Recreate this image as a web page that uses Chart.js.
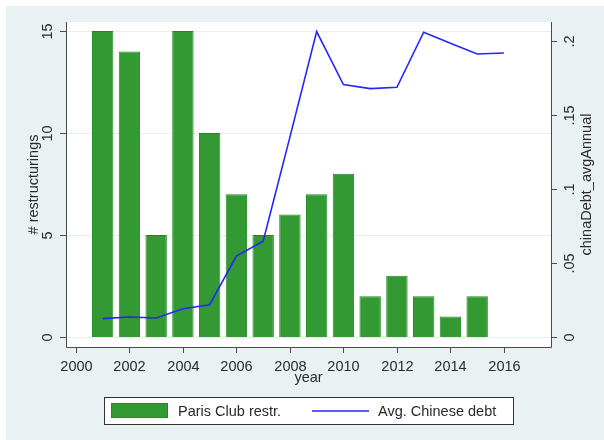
<!DOCTYPE html>
<html>
<head>
<meta charset="utf-8">
<script src="https://cdn.jsdelivr.net/npm/chart.js@4"></script>
<style>
  body { margin: 0; background: #fff; }
  #wrap { width: 604px; height: 440px; }
</style>
</head>
<body>
<div id="wrap"><canvas id="chart" width="604" height="440"></canvas></div>
<script>
// data
const barYears = [2001, 2002, 2003, 2004, 2005, 2006, 2007, 2008, 2009, 2010, 2011, 2012, 2013, 2014, 2015];
const restructurings = [15, 14, 5, 15, 10, 7, 5, 6, 7, 8, 2, 3, 2, 1, 2];
const lineYears = [2001, 2002, 2003, 2004, 2005, 2006, 2007, 2008, 2009, 2010, 2011, 2012, 2013, 2014, 2015, 2016];
const chinaDebt = [0.0124, 0.0135, 0.0128, 0.0191, 0.0218, 0.0547, 0.0647, 0.135, 0.2063, 0.1705, 0.1678, 0.1687, 0.2059, 0.1984, 0.1912, 0.1919];
const xTicks = [2000, 2002, 2004, 2006, 2008, 2010, 2012, 2014, 2016];
const leftTicks = [0, 5, 10, 15];
const leftTickLabels = ["0", "5", "10", "15"];
const rightTicks = [0, 0.05, 0.1, 0.15, 0.2];
const rightTickLabels = ["0", ".05", ".1", ".15", ".2"];

const FONT = "14.5px 'Liberation Sans', Arial, sans-serif";
const TEXT = "#2a2a2a";
const AXIS = "#4a4a4a";
const BG = "#EAF1F3";

function vtext(ctx, str, x, y) {
    ctx.save();
    ctx.translate(x, y);
    ctx.rotate(-Math.PI / 2);
    ctx.fillText(str, 0, 0);
    ctx.restore();
}

const stataFrame = {
    id: "stataFrame",
    beforeDraw(chart) {
        const ctx = chart.ctx, a = chart.chartArea;
        const y = chart.scales.y;
        ctx.save();
        ctx.fillStyle = "#fff";
        ctx.fillRect(0, 0, chart.width, chart.height);
        ctx.fillStyle = BG;
        ctx.fillRect(6, 6, chart.width - 6, chart.height - 6);
        ctx.fillStyle = "#fff";
        ctx.fillRect(a.left, a.top, a.right - a.left, a.bottom - a.top);
        // grid lines
        ctx.strokeStyle = "#E6EEF1";
        ctx.lineWidth = 1;
        leftTicks.forEach(v => {
            const py = Math.round(y.getPixelForValue(v)) + 0.5;
            ctx.beginPath();
            ctx.moveTo(a.left, py);
            ctx.lineTo(a.right, py);
            ctx.stroke();
        });
        ctx.restore();
    },
    afterDraw(chart) {
        const ctx = chart.ctx, a = chart.chartArea;
        const x = chart.scales.x, y = chart.scales.y, y2 = chart.scales.y2;
        ctx.save();
        ctx.strokeStyle = AXIS;
        ctx.lineWidth = 1;
        ctx.beginPath();
        ctx.moveTo(a.left + 0.5, a.top);
        ctx.lineTo(a.left + 0.5, a.bottom + 0.5);
        ctx.lineTo(a.right + 0.5, a.bottom + 0.5);
        ctx.moveTo(a.right + 0.5, a.top);
        ctx.lineTo(a.right + 0.5, a.bottom + 0.5);
        ctx.stroke();

        ctx.font = FONT;
        ctx.fillStyle = TEXT;

        // left axis
        ctx.textAlign = "center";
        ctx.textBaseline = "middle";
        leftTicks.forEach((v, i) => {
            const py = Math.round(y.getPixelForValue(v)) + 0.5;
            ctx.beginPath();
            ctx.moveTo(a.left - 6, py);
            ctx.lineTo(a.left, py);
            ctx.stroke();
            vtext(ctx, leftTickLabels[i], a.left - 18, py);
        });
        // right axis
        rightTicks.forEach((v, i) => {
            const py = Math.round(y2.getPixelForValue(v)) + 0.5;
            ctx.beginPath();
            ctx.moveTo(a.right, py);
            ctx.lineTo(a.right + 6, py);
            ctx.stroke();
            vtext(ctx, rightTickLabels[i], a.right + 19, py);
        });
        // x axis
        ctx.textBaseline = "alphabetic";
        xTicks.forEach(v => {
            const px = Math.round(x.getPixelForValue(v)) + 0.5;
            ctx.beginPath();
            ctx.moveTo(px, a.bottom);
            ctx.lineTo(px, a.bottom + 6);
            ctx.stroke();
            ctx.fillText(String(v), px, a.bottom + 24);
        });

        // axis titles
        const midX = (a.left + a.right) / 2, midY = (a.top + a.bottom) / 2;
        ctx.fillText("year", midX, a.bottom + 35);
        ctx.textBaseline = "middle";
        vtext(ctx, "# restructurings", 34, midY);
        vtext(ctx, "chinaDebt_avgAnnual", 587, midY);

        // legend
        const lx = 104.5, ly = 397.5, lw = 409, lh = 27;
        ctx.fillStyle = "#fff";
        ctx.fillRect(lx, ly, lw, lh);
        ctx.strokeStyle = "#333";
        ctx.strokeRect(lx, ly, lw, lh);
        const bar = chart.data.datasets[0], line = chart.data.datasets[1];
        ctx.fillStyle = bar.backgroundColor;
        ctx.fillRect(111, 403, 57, 15);
        ctx.strokeStyle = bar.borderColor;
        ctx.strokeRect(111.5, 403.5, 56, 14);
        ctx.strokeStyle = line.borderColor;
        ctx.lineWidth = 1.5;
        ctx.beginPath();
        ctx.moveTo(312, 411);
        ctx.lineTo(369, 411);
        ctx.stroke();
        ctx.fillStyle = TEXT;
        ctx.textAlign = "left";
        ctx.textBaseline = "alphabetic";
        ctx.fillText(bar.label, 178, 416);
        ctx.fillText(line.label, 378, 416);
        ctx.restore();
    }
};

new Chart(document.getElementById("chart"), {
    type: "bar",
    data: {
        datasets: [{
            type: "bar",
            label: "Paris Club restr.",
            data: barYears.map((yr, i) => ({ x: yr, y: restructurings[i] })),
            backgroundColor: "#339933",
            borderColor: "#1f8a1f",
            borderWidth: 1,
            barPercentage: 0.8,
            categoryPercentage: 1,
            yAxisID: "y",
            order: 1
        }, {
            type: "line",
            label: "Avg. Chinese debt",
            data: lineYears.map((yr, i) => ({ x: yr, y: chinaDebt[i] })),
            borderColor: "#2525ff",
            borderWidth: 1.6,
            pointRadius: 0,
            tension: 0,
            yAxisID: "y2",
            order: 0
        }]
    },
    options: {
        responsive: false,
        animation: false,
        layout: { padding: { left: 66, top: 22, right: 53, bottom: 93 } },
        plugins: { legend: { display: false }, tooltip: { enabled: false } },
        scales: {
            x: { type: "linear", min: 1999.63, max: 2017.76, offset: false, display: false },
            y: { type: "linear", min: -0.49, max: 15.44, display: false },
            y2: { type: "linear", min: -0.00676, max: 0.2128, display: false, position: "right" }
        }
    },
    plugins: [stataFrame]
});
</script>
</body>
</html>
